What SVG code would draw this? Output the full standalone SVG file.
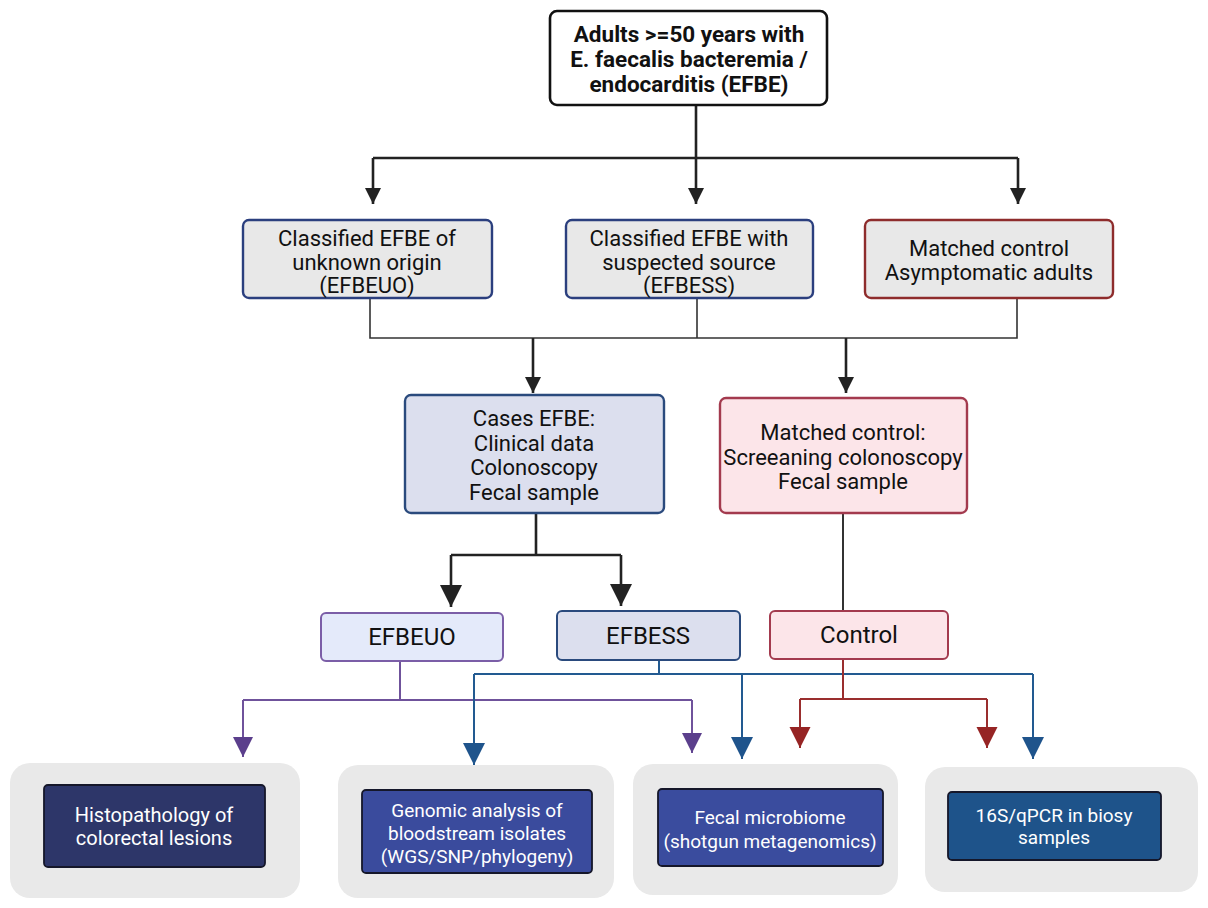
<svg xmlns="http://www.w3.org/2000/svg" width="1208" height="908" viewBox="0 0 1208 908">
<style>
text{font-family:Roboto,"Liberation Sans",sans-serif;text-anchor:middle;fill:#111}
.t2{font-size:22px}
.t3{font-size:22px}
.t4{font-size:24px}
.wt{font-size:19px;fill:#fff}
.gray{fill:#e9e9e9}
.inner{stroke:#15172a;stroke-width:1.8}
.blk{fill:none;stroke:#222;stroke-width:2.6}
.thin{fill:none;stroke:#333;stroke-width:1.6}
.pur{fill:none;stroke:#6f529b;stroke-width:2}
.blu{fill:none;stroke:#225a91;stroke-width:2}
.red{fill:none;stroke:#9a2e2e;stroke-width:2}
</style>
<defs>
<marker id="aB" viewBox="0 0 10 10" refX="10" refY="5" markerUnits="userSpaceOnUse" markerWidth="20" markerHeight="16" orient="auto"><path d="M0,0L10,5L0,10z" fill="#222"/></marker>
<marker id="aB2" viewBox="0 0 10 10" refX="10" refY="5" markerUnits="userSpaceOnUse" markerWidth="22" markerHeight="22" orient="auto"><path d="M0,0L10,5L0,10z" fill="#222"/></marker>
<marker id="aP" viewBox="0 0 10 10" refX="10" refY="5" markerUnits="userSpaceOnUse" markerWidth="20" markerHeight="21" orient="auto"><path d="M0,0L10,5L0,10z" fill="#5b3f8c"/></marker>
<marker id="aU" viewBox="0 0 10 10" refX="10" refY="5" markerUnits="userSpaceOnUse" markerWidth="22" markerHeight="22" orient="auto"><path d="M0,0L10,5L0,10z" fill="#1f548c"/></marker>
<marker id="aR" viewBox="0 0 10 10" refX="10" refY="5" markerUnits="userSpaceOnUse" markerWidth="21" markerHeight="22" orient="auto"><path d="M0,0L10,5L0,10z" fill="#962424"/></marker>
</defs>

<g id="connectors">
<path class="blk" d="M696,105V158"/>
<path class="blk" d="M373,158H1018"/>
<path class="blk" d="M373,158V204" marker-end="url(#aB)"/>
<path class="blk" d="M696,158V204" marker-end="url(#aB)"/>
<path class="blk" d="M1018,158V204" marker-end="url(#aB)"/>
<path class="thin" d="M370,298V338H1017V298M697,298V338"/>
<path class="blk" d="M533,338V393" marker-end="url(#aB)"/>
<path class="blk" d="M846,338V393" marker-end="url(#aB)"/>
<path class="blk" d="M536,513V555M451,555H621"/>
<path class="blk" d="M451,555V607" marker-end="url(#aB2)"/>
<path class="blk" d="M621,555V606" marker-end="url(#aB2)"/>
<path class="thin" d="M843,513V611" style="stroke-width:2"/>
<path class="pur" d="M400,661V700M243,700H692"/>
<path class="pur" d="M243,700V757" marker-end="url(#aP)"/>
<path class="pur" d="M692,700V753" marker-end="url(#aP)"/>
<path class="blu" d="M659,660V674M474,674H1033"/>
<path class="blu" d="M474,674V765" marker-end="url(#aU)"/>
<path class="blu" d="M742,674V759" marker-end="url(#aU)"/>
<path class="blu" d="M1033,674V759" marker-end="url(#aU)"/>
<path class="red" d="M843,659V699M800,699H987"/>
<path class="red" d="M800,699V748" marker-end="url(#aR)"/>
<path class="red" d="M987,699V748" marker-end="url(#aR)"/>
</g>

<g id="top">
<rect x="550" y="11" width="277" height="94" rx="7" fill="#fff" stroke="#111" stroke-width="2.6"/>
<text x="689" y="42" style="font-size:22.5px;font-weight:bold">Adults &gt;=50 years with</text>
<text x="689" y="67" style="font-size:22.5px;font-weight:bold">E. faecalis bacteremia /</text>
<text x="689" y="92" style="font-size:22.5px;font-weight:bold">endocarditis (EFBE)</text>
</g>

<g id="efbeuo-class">
<rect x="243" y="220" width="249" height="78" rx="6" fill="#e8e8e8" stroke="#2b3f7e" stroke-width="2.4"/>
<text class="t2" x="367" y="246">Classified EFBE of</text>
<text class="t2" x="367" y="270">unknown origin</text>
<text class="t2" x="367" y="293">(EFBEUO)</text>
</g>

<g id="efbess-class">
<rect x="566" y="220" width="247" height="78" rx="6" fill="#e8e8e8" stroke="#2b3f7e" stroke-width="2.4"/>
<text class="t2" x="689" y="246">Classified EFBE with</text>
<text class="t2" x="689" y="270">suspected source</text>
<text class="t2" x="689" y="293">(EFBESS)</text>
</g>

<g id="matched-asym">
<rect x="865" y="220" width="248" height="78" rx="6" fill="#e8e8e8" stroke="#8e2c2c" stroke-width="2.4"/>
<text class="t2" x="989" y="256">Matched control</text>
<text class="t2" x="989" y="280">Asymptomatic adults</text>
</g>

<g id="cases">
<rect x="405" y="395" width="259" height="118" rx="6" fill="#dcdfee" stroke="#2a4a7d" stroke-width="2.4"/>
<text class="t3" x="534" y="426">Cases EFBE:</text>
<text class="t3" x="534" y="451">Clinical data</text>
<text class="t3" x="534" y="475">Colonoscopy</text>
<text class="t3" x="534" y="500">Fecal sample</text>
</g>

<g id="matched-control">
<rect x="720" y="398" width="247" height="115" rx="6" fill="#fce5e9" stroke="#a33a4e" stroke-width="2.4"/>
<text class="t3" x="843" y="440">Matched control:</text>
<text class="t3" x="843" y="465">Screeaning colonoscopy</text>
<text class="t3" x="843" y="489">Fecal sample</text>
</g>

<g id="efbeuo">
<rect x="321" y="613" width="182" height="48" rx="5" fill="#e4eafa" stroke="#7b5ea7" stroke-width="2"/>
<text class="t4" x="412" y="645">EFBEUO</text>
</g>

<g id="efbess">
<rect x="557" y="611" width="183" height="49" rx="5" fill="#dcdfee" stroke="#2a4a7d" stroke-width="2"/>
<text class="t4" x="648" y="644">EFBESS</text>
</g>

<g id="control">
<rect x="770" y="611" width="178" height="48" rx="5" fill="#fce5e9" stroke="#a33a4e" stroke-width="2"/>
<text class="t4" x="859" y="643">Control</text>
</g>

<g id="histo">
<rect class="gray" x="10" y="763" width="290" height="135" rx="20"/>
<rect class="inner" x="44" y="785" width="221" height="82" rx="4" fill="#2d3669"/>
<text class="wt" x="154" y="822" style="font-size:20px">Histopathology of</text>
<text class="wt" x="154" y="845" style="font-size:20px">colorectal lesions</text>
</g>

<g id="genomic">
<rect class="gray" x="338" y="765" width="276" height="133" rx="20"/>
<rect class="inner" x="362" y="790" width="230" height="83" rx="4" fill="#3a4b9d"/>
<text class="wt" x="477" y="817">Genomic analysis of</text>
<text class="wt" x="477" y="840">bloodstream isolates</text>
<text class="wt" x="477" y="863">(WGS/SNP/phylogeny)</text>
</g>

<g id="fecal">
<rect class="gray" x="633" y="764" width="265" height="131" rx="20"/>
<rect class="inner" x="658" y="789" width="225" height="77" rx="4" fill="#3a4c9e"/>
<text class="wt" x="770" y="824">Fecal microbiome</text>
<text class="wt" x="770" y="848">(shotgun metagenomics)</text>
</g>

<g id="qpcr">
<rect class="gray" x="925" y="767" width="273" height="125" rx="20"/>
<rect class="inner" x="948" y="792" width="213" height="68" rx="4" fill="#1e538a"/>
<text class="wt" x="1054" y="822">16S/qPCR in biosy</text>
<text class="wt" x="1054" y="844">samples</text>
</g>
</svg>
